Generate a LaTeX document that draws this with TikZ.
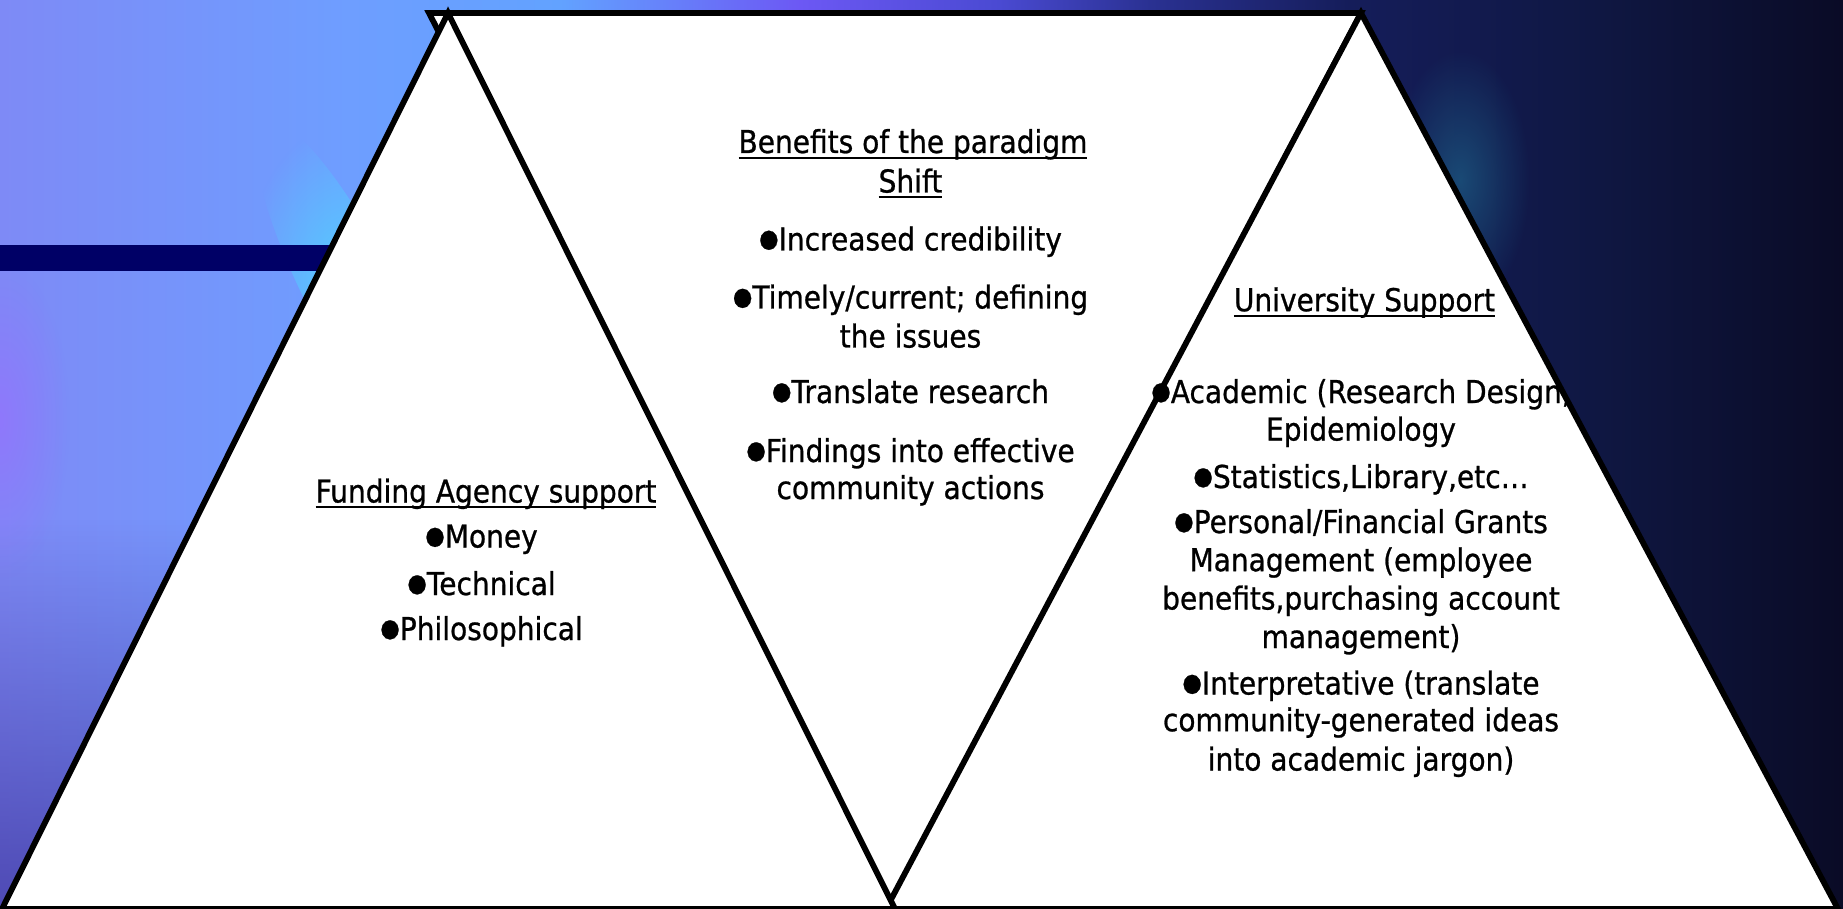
\documentclass[tikz,border=0pt]{standalone}
\usepackage{fontspec}
\setmainfont{DejaVu Sans}[FakeStretch=0.89, FakeBold=0.8]
\usetikzlibrary{fadings}

\definecolor{bgA}{HTML}{7E8AF6}
\definecolor{bgB}{HTML}{6E9EFF}
\definecolor{bgC}{HTML}{62A2FF}
\definecolor{bgD}{HTML}{6C58F4}
\definecolor{bgE}{HTML}{4A4AD2}
\definecolor{bgF}{HTML}{2A3192}
\definecolor{bgG}{HTML}{151D5A}
\definecolor{bgH}{HTML}{0F1742}
\definecolor{bgI}{HTML}{0A0B26}
\definecolor{navybar}{HTML}{000066}
\definecolor{glowcyan}{HTML}{4FD8FF}
\definecolor{glowteal}{HTML}{1F6A8F}
\definecolor{glowviolet}{HTML}{9A6CFF}
\definecolor{duskpurple}{HTML}{3A2E98}

\pgfdeclarehorizontalshading{slidebg}{100bp}{color(0bp)=(bgA); color(25bp)=(bgA); color(34.5bp)=(bgB); color(40.2bp)=(bgC); color(46.7bp)=(bgD); color(52.1bp)=(bgE); color(56.2bp)=(bgF); color(61.6bp)=(bgG); color(68.4bp)=(bgH); color(75bp)=(bgI); color(100bp)=(bgI)}

\tikzfading[name=softglow, inner color=transparent!0, outer color=transparent!100]

\newcommand\slidefont{\fontsize{15.75pt}{18pt}\selectfont}
\newcommand\bul{\raisebox{1.8pt}{\fontsize{12.6pt}{14pt}\selectfont ●}}
\newsavebox\ulbox
\newcommand\ulined[1]{\sbox\ulbox{#1}\rlap{\rule[-2.8pt]{\wd\ulbox}{1pt}}\usebox\ulbox}

\tikzset{
  tri/.style={fill=white, draw=black, line width=2.9pt, line join=miter},
  txt/.style={inner sep=0pt, anchor=base, font=\slidefont}
}

\begin{document}
\begin{tikzpicture}[x=0.5pt, y=-0.5pt]
    \useasboundingbox (0,0) rectangle (1843,909);

    % background
    \shade [shading=slidebg] (0,0) rectangle (1843,909);
    \fill [duskpurple, path fading=north, opacity=.7] (0,520) rectangle (460,909);
    \fill [glowviolet, path fading=softglow, opacity=.6] (0,420) ellipse [x radius=70, y radius=160];
    \fill [glowcyan, path fading=softglow, opacity=.85, rotate around={27:(350,290)}] (350,290) ellipse [x radius=45, y radius=190];
    \fill [glowteal, path fading=softglow, opacity=.6] (1460,180) ellipse [x radius=70, y radius=130];
    \fill [navybar] (0,245) rectangle (420,271);

    % triangles
    \coordinate (midTL) at (429,13);
    \coordinate (midTR) at (1361,13);
    \coordinate (midB) at (890,909);
    \coordinate (lApex) at (448,13);
    \coordinate (lBL) at (2,909);
    \coordinate (lBR) at (895,909);
    \coordinate (rApex) at (1361,13);
    \coordinate (rBL) at (886,909);
    \coordinate (rBR) at (1838,909);

    \draw [tri] (midTL) -- (midTR) -- (midB) -- cycle;
    \draw [tri] (rApex) -- (rBR) -- (rBL) -- cycle;
    \draw [tri] (lApex) -- (lBR) -- (lBL) -- cycle;

    % middle column
    \node [txt] (benefit1) at (913,153) {\ulined{Benefits of the paradigm}};
    \node [txt] (benefit2) at (910.5,192.5) {\ulined{Shift}};
    \foreach \y/\words [count=\i] in {250.4/{\bul Increased credibility}, 308.5/{\bul Timely/current; defining}, 347.5/{the issues}, 403/{\bul Translate research}, 462/{\bul Findings into effective}, 499/{community actions}}
        \node [txt] (mid\i) at (910.5,\y) {\words};

    % left column
    \node [txt] (fundhead) at (486,502.5) {\ulined{Funding Agency support}};
    \foreach \y/\words [count=\i] in {547.5/{\bul Money}, 595/{\bul Technical}, 640/{\bul Philosophical}}
        \node [txt] (fund\i) at (481.5,\y) {\words};

    % right column
    \node [txt] (unihead) at (1364.5,311.2) {\ulined{University Support}};
    \begin{scope}
        \clip (900,0) -- (1354,0) -- (1838,909) -- (900,909) -- cycle;
        \foreach \y/\words [count=\i] in {403/{\bul Academic (Research Design,}, 440.5/{Epidemiology}, 488/{\bul Statistics,Library,etc…}, 533/{\bul Personal/Financial Grants}, 571.2/{Management (employee}, 609.5/{benefits,purchasing account}, 648/{management)}, 694.5/{\bul Interpretative (translate}, 731.2/{community-generated ideas}, 770.5/{into academic jargon)}}
            \node [txt] (uni\i) at (1361,\y) {\words};
    \end{scope}
\end{tikzpicture}
\end{document}
